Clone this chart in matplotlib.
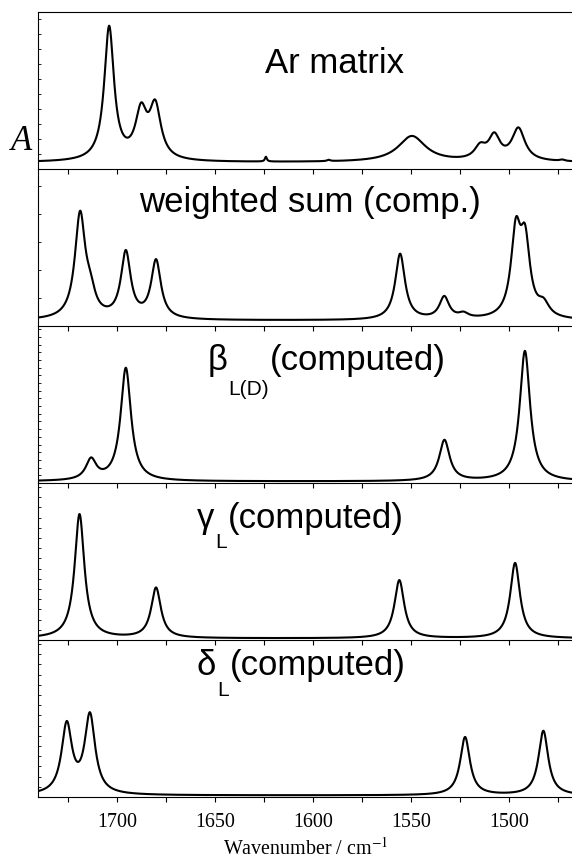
import numpy as np
import matplotlib
matplotlib.use("Agg")
from matplotlib import pyplot as plt
from matplotlib.ticker import MultipleLocator

plt.rcParams['font.family'] = ['Liberation Sans', 'DejaVu Sans']
plt.rcParams['mathtext.fontset'] = 'stix'

# band lists: position (cm-1), height (panel fraction), half width (cm-1)
ar_pos = [1703.9, 1687.6, 1680.4, 1624.0, 1592.0, 1549.6, 1514.8, 1507.6, 1495.3, 1473.0]
ar_height = [0.85, 0.29, 0.33, 0.03, 0.008, 0.165, 0.08, 0.15, 0.205, 0.008]
ar_hw = [3.0, 3.5, 3.5, 0.6, 1.0, 8.5, 3.5, 3.5, 4.0, 1.5]
ar_base = 0.042

ws_pos = [1718.7, 1713.5, 1695.4, 1680.0, 1555.6, 1533.1, 1523.3, 1496.6, 1491.9, 1482.5]
ws_height = [0.66, 0.12, 0.42, 0.37, 0.42, 0.14, 0.03, 0.52, 0.45, 0.08]
ws_hw = [3.2, 3.0, 3.0, 3.0, 3.0, 3.0, 3.0, 3.0, 3.0, 3.5]
ws_base = 0.035

b_pos = [1713.1, 1695.4, 1533.0, 1492.0]
b_height = [0.13, 0.72, 0.26, 0.83]
b_hw = [3.2, 3.2, 3.2, 3.2]
b_base = 0.01

g_pos = [1719.0, 1680.0, 1556.0, 1497.0]
g_height = [0.79, 0.32, 0.37, 0.48]
g_hw = [3.0, 3.0, 3.0, 3.0]
g_base = 0.01

d_pos = [1725.5, 1713.7, 1522.5, 1482.6]
d_height = [0.44, 0.50, 0.37, 0.41]
d_hw = [3.2, 3.2, 3.0, 3.0]
d_base = 0.01

panel_labels = ["Ar matrix", "weighted sum (comp.)", "\u03b2", "\u03b3", "\u03b4"]
sub_labels = [None, None, "L(D)", "L", "L"]
tick_step = [0.0955, 0.178, 0.049, 0.065, 0.065]

xticks_all = [1725, 1700, 1675, 1650, 1625, 1600, 1575, 1550, 1525, 1500, 1475]
xticks_major = [1700, 1650, 1600, 1550, 1500]


def band(x, pos, h, hw):
    return h * hw ** 2 / ((x - pos) ** 2 + hw ** 2)


def spectrum(x, pos, height, hw, base):
    y = np.full_like(x, base)
    for p, h, w in zip(pos, height, hw):
        y += band(x, p, h, w)
    return y


wn = np.linspace(1740, 1468, 3000)
spectra = [
    spectrum(wn, ar_pos, ar_height, ar_hw, ar_base),
    spectrum(wn, ws_pos, ws_height, ws_hw, ws_base),
    spectrum(wn, b_pos, b_height, b_hw, b_base),
    spectrum(wn, g_pos, g_height, g_hw, g_base),
    spectrum(wn, d_pos, d_height, d_hw, d_base),
]

fig = plt.figure(figsize=(5.72, 8.58), dpi=100)
W, H = 572.0, 858.0
left = 38.3 / W
ph = 157.0

label_x = [265, 139, 208, 197, 197]
label_y = [0.611, 0.726, 0.72, 0.713, 0.777]
sub_drop = [0, 0, 16, 12, 13]

for i in range(5):
    bot = 169 + ph * i
    ax = fig.add_axes([left, 1 - bot / H, 1 - left, ph / H])
    ax.patch.set_visible(False)
    ax.plot(wn, spectra[i], color="black", lw=1.5)
    ax.set_xlim(1740, 1468)
    ax.set_ylim(0, 1)
    ax.spines['right'].set_visible(False)
    if i > 0:
        ax.spines['top'].set_visible(False)
    ax.set_xticks(xticks_all)
    ax.tick_params(axis='x', direction='out', length=3.5, width=0.8, top=False)
    ax.yaxis.set_major_locator(MultipleLocator(tick_step[i]))
    ax.tick_params(axis='y', direction='in', length=2, width=0.6, labelleft=False)
    if i < 4:
        ax.tick_params(axis='x', labelbottom=False)
    else:
        ax.set_xticklabels([str(t) if t in xticks_major else "" for t in xticks_all],
                           family="Liberation Serif", fontsize=14.4)
        ax.tick_params(axis='x', pad=8)
        ax.set_xlabel("Wavenumber / cm$^{-1}$", family="Liberation Serif", fontsize=14.4, labelpad=4)

    lx = (label_x[i] - 38.3) / (W - 38.3)
    t1 = ax.text(lx, label_y[i], panel_labels[i], transform=ax.transAxes,
                 fontsize=25, ha="left", va="baseline")
    if sub_labels[i] is not None:
        t2 = ax.annotate(sub_labels[i], xy=(1, 0), xycoords=t1,
                         xytext=(0.5, -sub_drop[i]), textcoords="offset points",
                         fontsize=15, ha="left", va="bottom")
        ax.annotate("(computed)", xy=(1, 0), xycoords=(t2, t1),
                    xytext=(0.5, 0), textcoords="offset points",
                    fontsize=25, ha="left", va="bottom")

fig.text(22 / W, 1 - 142 / H, "A", family="Liberation Serif", style="italic",
         fontsize=25, ha="center", va="center")

fig.savefig("out.png", dpi=100)
